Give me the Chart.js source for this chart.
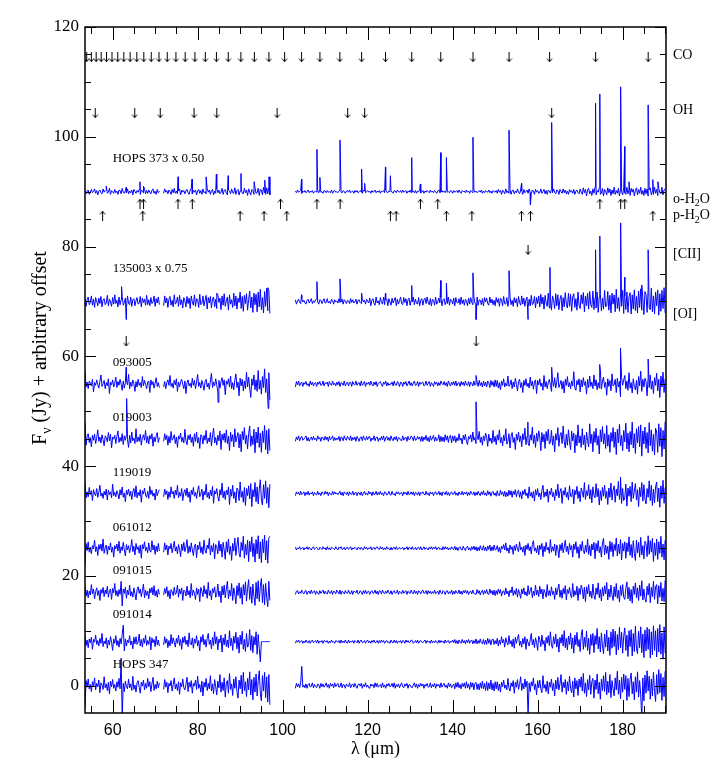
<!DOCTYPE html>
<html>
<head>
<meta charset="utf-8">
<script src="https://cdn.jsdelivr.net/npm/chart.js@4/dist/chart.umd.min.js"></script>
<style>
  html, body { margin: 0; background: #fff; }
</style>
</head>
<body>
<canvas id="spec" width="716" height="768"></canvas>
<script>
// axis ticks
const xTickVals = [60, 80, 100, 120, 140, 160, 180];
const yTickVals = [0, 20, 40, 60, 80, 100, 120];

// wavelength segments of the spectra (um), sampled every 0.25 um
const segStart = [53.5, 72.0, 103.0];
const segEnd = [71.0, 97.0, 190.2];
const STEP = 0.25;

// spectrum names, offsets and label levels
const specNames = ['HOPS 373 x 0.50', '135003 x 0.75', '093005', '019003', '119019', '061012', '091015', '091014', 'HOPS 347'];
const specBase = [90, 70, 55, 45, 35, 25, 17, 8, 0];
const nameLevels = [96.1, 75.9, 58.8, 48.8, 38.8, 28.8, 20.9, 12.9, 3.9];
const nameWave = 60;

// noise around the offset, in units of 0.1 Jy
const hops373A = [2,-4,1,3,-5,-1,4,-2,0,5, -3,2,-6,1,3,-2,-4,5,-1,2, 4,-3,-1,6,-5,2,0,-3,4,-2, 1,-5,3,2,-4,6,-1,-3,2,-2,
  5,-4,1,-2,3,-6,4,0,-3,2, -1,4,-5,3,1,-2,5,-4,2,-3, 3,-1,-4,2,5,-3,1,-5,4,-2, 1];
const hops373B = [-3,5,-1,2,-4,3,0,-5,4,-2, 6,-3,1,-4,2,5,-6,3,-1,2, -4,1,4,-2,-5,3,6,-4,2,-1, 3,-6,1,4,-3,2,-5,5,-2,0,
  -4,6,-1,3,-5,2,4,-6,1,-3, 5,-2,3,-4,-1,6,-5,2,4,-3, -6,3,1,-4,5,-2,-3,7,-5,2, 4,-6,1,5,-3,-4,6,-2,3,-7,
  5,-1,-6,4,2,-5,7,-3,-2,6, -7,4,3,-6,8,-2,-5,7,-4,8, -6];
const hops373C = [1,-2,3,-1,0,2,-3,1,-1,2, -2,0,3,-2,1,-1,2,-3,0,1, -1,2,-2,3,-1,0,-3,2,1,-2, 2,-1,0,-2,3,-3,1,2,-1,0,
  -2,1,3,-1,-2,2,0,-3,1,2, -1,3,-2,0,1,-3,2,-1,2,-2, 0,2,-1,-3,3,1,-2,0,2,-1, 1,-3,2,-1,0,3,-2,1,-1,2,
  -3,1,0,2,-2,3,-1,-2,1,0, 2,-1,-3,2,1,-2,3,0,-1,2, -2,3,-1,0,2,-3,1,-1,3,-2, 0,1,-2,2,-3,1,0,3,-2,-1,
  2,-3,1,-1,2,0,-2,3,-1,1, -2,2,0,-3,1,3,-2,-1,2,-1, 1,-2,3,-1,0,-2,2,1,-3,2, -1,0,2,-2,3,-1,-3,2,0,1,
  -2,3,-1,1,-3,2,0,-2,3,-1, 1,-2,0,2,-1,3,-3,1,-2,2, 0,-1,3,-2,1,-3,2,0,-1,2,
  -3,4,-1,2,-5,3,0,-4,5,-2, 1,-3,4,-5,2,3,-4,1,-2,5, -1,-4,3,2,-5,4,-2,0,3,-3, 5,-2,-4,3,1,-5,4,-1,2,-3,
  -2,5,-3,0,4,-4,2,-5,3,1, -3,4,-2,5,-1,-4,3,2,-5,4, 0,-3,5,-2,3,-4,1,-5,4,-1, 2,-3,4,-5,1,3,-2,-4,5,-1,
  -5,7,-2,4,-8,3,6,-4,1,-7, 5,-3,8,-6,2,-1,7,-5,-3,6, -8,4,1,-6,7,-2,5,-7,3,-4, 8,-5,2,-3,6,-8,4,1,-6,7,
  -2,-5,8,-4,3,-7,6,-1,5,-8, 2,7,-6,4,-3,8,-5,2,-7,6, -4,5,-8,3,7,-6,1,-5,8,-3, 4,-7,6,-2,-4,8,-6,3,5,-8];

const s135003A = [5,-9,3,8,-6,-2,10,-7,4,-11, 7,1,-8,6,-4,9,-10,2,5,-6, -3,11,-8,4,-1,-9,7,-5,12,-4, 2,-10,8,-6,3,9,-7,-2,6,-11,
  10,-4,-6,8,-9,3,5,-8,1,7, -5,-3,9,-10,6,-2,4,-7,11,-6, 3,-8,7,-4,-1,10,-9,5,-3,8, -6];
const s135003B = [-8,10,-3,6,-11,4,9,-7,2,-10, 12,-5,-2,8,-9,11,-6,3,-12,7, 1,-10,9,-4,6,-13,10,-1,-7,12, -9,5,3,-11,13,-6,-4,10,-8,2,
  11,-14,7,-3,9,-12,5,8,-10,4, -13,12,-2,6,-15,10,-7,14,-9,1, 8,-16,12,-5,3,-11,15,-8,10,-14, 6,-2,17,-13,9,-18,11,-4,14,-16,
  3,19,-12,8,-20,15,-6,13,-19,17, -10,22,-15,7,-21,18,-9,24,-17,20, -22];
const s135003C = [3,-5,1,4,-2,-4,5,-1,2,-3, -5,2,4,-3,0,5,-4,1,-2,3, 4,-1,-5,3,2,-4,1,5,-3,-2, 5,-3,0,-4,4,2,-5,3,-1,1,
  -3,5,-2,-1,4,-5,3,0,-4,2, 1,-4,5,-2,3,-3,-1,4,-5,2, 3,-2,-4,5,-1,2,-5,4,0,-3,
  6,-8,2,5,-4,-7,8,-3,1,-6, 7,-2,-5,8,-6,3,4,-8,5,-1, -7,6,-3,2,7,-8,4,-5,1,8, -4,-6,7,-2,5,-8,3,6,-7,2,
  -1,8,-6,4,-3,-5,7,-8,2,5, -7,3,6,-4,8,-2,-6,5,-8,4, 2,-7,8,-5,-1,6,-3,7,-8,3, 5,-6,1,-4,8,-7,4,2,-5,6,
  -8,7,-2,-3,5,-6,8,-4,3,-7, 4,1,-8,6,-5,7,-2,-6,8,-3, -5,8,-7,3,2,-6,5,-8,7,-1, 6,-4,-7,8,-3,4,-6,2,-8,7,
  -2,5,-9,6,3,-8,9,-4,-5,7, -9,4,8,-6,2,-9,7,-3,5,-10, 9,-2,-7,10,-5,6,-9,3,8,-11, 4,-8,11,-6,-3,9,-12,7,-4,10,
  -10,13,-5,8,-14,11,-3,-9,15,-12, 6,-16,10,2,-13,14,-8,12,-15,4, 11,-17,7,-10,16,-5,-12,15,-9,13, -18,8,14,-11,5,-16,17,-7,-13,12,
  -4,16,-19,10,-8,15,-14,18,-6,-11, 19,-15,7,-12,17,-20,9,13,-17,6, -14,20,-10,-8,18,-16,11,-21,15,-5, 12,-19,22,-13,7,-18,14,-9,20,-22,
  10,-15,17,-20,8,16,-23,12,-14,21, -17,9,-21,19,-11,23,-16,6,-24,18, 13,-20,22,-12,-15,24,-19,10,-23,17, -8,21,-25,14,-18,20,-13,25,-21,11];

const s093005A = [22,-6,3,-9,5,1,-4,8,-15,2, -3,7,-1,-8,4,16,-5,0,6,-9, 2,-4,9,-18,3,-2,7,-6,1,12, -7,4,-3,8,-1,-12,5,-8,2,6,
  -2,17,-9,3,-5,7,0,-14,4,-6, 8,-3,2,-7,13,-4,6,-1,-9,3, 5,-16,7,-2,4,-8,1,11,-5,2, -7];
const s093005B = [-6,4,-9,2,7,-3,15,-5,1,-8, 6,-2,9,-14,3,-6,4,8,-1,-9, 5,-18,2,7,-4,1,-7,10,-3,6, -9,3,17,-5,2,-8,6,-2,-12,4,
  8,-6,1,-10,5,19,-7,3,-4,9, -2,-15,6,-8,4,11,-3,7,-20,5, -1,9,-6,14,-9,2,-11,6,18,-7, 3,-22,10,-4,8,-13,5,-9,21,-6,
  12,-8,-25,9,-3,16,-11,7,-14,24, -10,6,-19,13,-7,27,-16,9,-28,20, -30];
const s093005C = [-6,4,-2,5,-4,1,3,-5,2,-1, 4,-3,0,-5,5,-2,3,-4,1,2, -5,3,-1,4,-3,-2,5,-4,2,0, 3,-5,4,-1,-3,5,-2,1,-4,3,
  -2,4,-5,2,1,-3,5,-4,0,3, -4,2,3,-5,4,-1,-2,5,-3,1, 2,-4,5,-3,0,4,-5,2,-1,3, -3,5,-1,-4,3,-2,4,-5,1,2,
  4,-2,-5,3,-1,5,-4,2,-3,0, -1,3,-4,5,-2,-3,4,1,-5,3, 2,-5,3,-1,4,-4,0,5,-3,2, -4,1,5,-3,-2,4,-5,3,-1,2,
  3,-4,-2,5,-3,1,4,-5,2,-1, -5,4,-1,3,-4,2,-3,5,0,-2, 4,-3,2,-5,5,-1,-4,3,-2,4, -3,5,-4,1,2,-5,4,-2,3,-4,
  5,-2,-3,4,-5,3,1,-4,5,-3, -1,4,-5,6,-3,2,-6,5,-4,3, -6,5,2,-7,6,-3,4,-6,7,-5,
  6,-8,2,-11,5,-3,9,-6,1,-4, 14,-5,-2,7,-9,3,-6,10,-1,-13, 4,8,-7,2,-16,6,-3,9,-5,1, -8,12,-4,5,-10,3,7,-18,6,-2,
  9,-5,1,-12,15,-6,4,-9,2,8, -3,-14,7,-5,11,-8,3,20,-7,-1, 6,-10,4,-17,8,-3,13,-6,2,-9, 5,-4,22,-8,-12,6,-2,9,-15,7,
  -6,11,-3,4,-19,8,-7,14,-5,3, -9,16,-4,7,-11,2,-8,25,-10,5, 12,-7,3,-21,9,-5,6,-13,18,-4, -2,8,-16,10,-6,4,-24,11,-3,7,
  15,-9,5,-12,20,-8,2,-17,9,-5, -11,6,-19,13,-4,23,-14,8,-6,10, 4,-22,12,-7,16,-10,5,-18,11,-3, 19,-13,8,-25,14,-6,21,-16,9,-12];

const s019003A = [30,-12,4,9,-7,2,-15,6,-3,8, -9,1,16,-5,3,-8,7,-2,-13,5, 2,-6,11,-4,8,-17,3,-1,6,-9, 4,14,-7,2,-5,9,-11,5,-3,7,
  -2,-16,6,-8,12,-4,1,-9,18,-6, 3,-5,8,-12,2,7,-3,15,-8,4, -10,6,-1,9,-14,3,-6,5,11,-7, 2];
const s019003B = [-5,9,-2,6,-12,4,-8,13,-3,1, 7,-9,3,-16,5,-1,10,-6,2,-8, 17,-4,-11,6,-2,8,-7,3,-14,9, -5,12,-8,2,-18,7,4,-10,6,-3,
  15,-9,1,-6,11,-13,5,19,-8,2, -12,6,-4,14,-20,8,-3,10,-7,16, -9,4,-22,12,-5,7,-15,18,-6,3, 11,-17,8,-24,13,-2,20,-10,6,-19,
  9,23,-14,5,-11,17,-26,12,-8,21, -16,10,-25,14,-7,24,-20,15,-28,18, -22];
const s019003C = [-5,3,-2,5,-4,1,4,-3,-1,2, 5,-4,2,-5,0,3,-3,4,-2,1, -4,5,-1,2,-5,3,1,-3,4,-2, 3,-5,4,-2,0,5,-4,2,-3,1,
  -2,4,-5,3,2,-4,5,-1,-3,4, 1,-3,5,-4,2,-2,3,-5,4,0, -5,2,3,-4,5,-1,-3,4,-2,3, 4,-5,1,-2,5,-4,2,3,-5,1,
  -3,4,-2,5,-5,1,4,-3,2,-4, 5,-1,-4,3,-2,4,-5,2,1,-3, -4,5,-3,1,3,-5,4,-2,-1,5, 2,-4,5,-3,-2,4,-1,3,-5,4,
  -5,3,-2,6,-4,2,-6,5,-3,1, 6,-5,3,-4,-2,7,-6,4,-5,3, -6,7,-3,5,-7,4,6,-8,5,-4,
  5,-7,2,-4,9,-3,1,-10,6,-2, 8,-5,-11,4,-1,7,-6,12,-3,2, -9,6,-2,13,-7,3,-12,5,-4,10, 3,-14,8,-5,1,-9,15,-6,4,-11,
  7,-3,16,-8,2,-13,6,-4,18,-10, -5,9,-17,4,11,-7,2,-20,8,-3, 12,-6,5,-15,9,-2,19,-11,4,-8, -13,7,-3,21,-9,6,-16,10,-5,14,
  3,-22,11,-6,8,-18,13,-4,17,-10, -7,15,-12,5,-24,9,-3,20,-14,6, 11,-9,23,-5,-17,8,-12,16,-6,-20, 14,-4,10,-26,7,-13,25,-8,5,-16,
  18,-11,6,-21,12,-3,-15,27,-9,8, -24,13,-7,19,-12,5,-28,16,-6,22, -10,9,-18,24,-14,7,-25,11,-5,20, -16,12,-29,17,-8,26,-13,6,-22,15,
  -6,28,-19,10,-24,13,-11,30,-17,9, -27,18,-8,22,-15,25,-32,14,-10,21, -18,11,-26,29,-13,16,-23,8,-30,19, 12,-25,27,-14,20,-33,15,-19,31,-22];

const s119019A = [20,-8,3,-6,11,-2,5,-13,7,-1, -4,9,-7,2,15,-5,1,-9,4,-3, 8,-12,6,-2,3,-8,17,-4,2,-6, 5,-1,-10,7,-3,12,-7,1,-15,6,
  -2,8,-5,4,-11,3,9,-6,14,-8, 2,-4,7,-16,5,-1,10,-3,-7,4, -9,13,-2,6,-5,1,-12,8,-4,3, 7];
const s119019B = [-6,8,-2,5,-11,3,-7,12,-1,4, -9,6,-3,15,-8,2,-5,9,-13,1, 7,-4,10,-7,3,-16,6,-2,11,-5, 2,-9,5,14,-6,-1,8,-12,4,-3,
  17,-7,2,-10,6,-4,13,-18,5,-1, 9,-6,-14,7,-3,19,-8,4,-11,6, -2,12,-20,8,-5,15,-9,3,-17,10, 6,-13,21,-7,4,-16,11,-22,9,-4,
  14,-10,18,-24,7,-6,20,-15,12,-19, 8,25,-12,-21,16,-9,23,-18,11,-26, 17];
const s119019C = [-4,3,-1,2,-3,4,-2,0,3,-4, 2,-2,4,-3,1,-1,3,-4,2,0, -3,4,-2,1,-4,3,0,-2,4,-1, 3,-4,2,-1,-3,4,-2,3,-1,1,
  -2,1,4,-3,2,-4,3,0,-2,3, -4,3,-1,-2,4,-3,1,2,-4,2, 1,-3,3,-4,0,4,-2,1,-3,4, -1,2,-4,3,-2,-1,4,-3,2,-2,
  4,-2,1,-4,3,2,-3,-1,4,-2, -3,4,-2,0,-4,3,-1,3,-2,1, 2,-4,3,-1,2,-3,4,-2,-1,3, -2,3,-4,2,1,-3,3,-4,2,0,
  3,-1,-3,4,-2,1,-4,3,-1,2, -4,2,3,-2,-1,4,-3,2,-4,3, 1,-2,4,-3,2,-4,1,3,-2,-1, 4,-3,1,-4,3,-1,-2,4,-3,2,
  -1,3,-4,2,-3,4,0,-2,3,-4, 2,-3,4,-1,-4,3,-2,5,-3,1, -4,5,-2,3,-5,2,4,-3,1,-5, 5,-3,-4,6,-2,3,-5,4,-6,2,
  -5,6,-3,5,-7,4,-2,7,-6,3,
  6,-7,3,-10,5,-2,8,-4,1,-9, 12,-5,2,-8,4,-14,7,-3,9,-6, 1,-11,6,15,-7,3,-5,8,-16,4, -2,10,-6,2,-13,7,-4,17,-8,3,
  9,-18,5,-3,11,-7,2,-12,14,-5, -6,8,-19,6,-2,13,-9,4,-15,10, 3,-7,20,-11,5,-4,16,-10,7,-17, 12,-3,-8,18,-6,9,-21,5,-13,11,
  -5,15,-9,4,-20,10,-7,19,-12,6, 14,-16,8,-4,22,-11,6,-18,9,-13, -8,17,-23,10,-5,13,-15,21,-9,4, 18,-12,7,-24,11,-6,20,-14,16,-10,
  -19,9,-7,23,-13,15,-22,8,-17,12, 21,-15,10,-25,14,-9,24,-18,11,-20];

const s061012A = [-30,9,-4,12,-7,2,-10,5,-1,15, -6,3,-13,7,-2,8,-5,17,-9,1, 6,-11,4,-3,10,-7,2,-16,5,-1, 8,-5,13,-9,3,-4,11,-2,-14,7,
  -3,5,-8,1,16,-6,4,-12,9,-2, 3,-9,6,-18,7,-1,12,-5,2,-8, 10,-4,-7,14,-3,6,-11,4,-6,9, -5];
const s061012B = [-7,10,-3,6,-12,4,-1,9,-8,2, 13,-5,3,-10,7,-2,-15,8,-4,11, -6,2,16,-9,4,-7,10,-3,-13,5, 8,-17,6,-2,12,-8,3,-11,15,-4,
  -9,6,-1,18,-12,5,-6,9,-19,7, 3,-10,14,-5,8,-16,11,-3,-20,12, -7,17,-11,4,-22,9,-5,19,-13,6, 20,-9,-16,11,-4,22,-18,7,-12,15,
  -24,13,-6,21,-15,9,-25,16,-10,23, -19,12,-26,17,-8,24,-21,14,-27,19, 22];
const s061012C = [2,-3,1,-1,3,-2,0,2,-3,1, -1,3,-2,2,-1,-3,1,3,-2,0, 2,-1,-3,2,0,-2,3,-1,1,-3, 3,-2,1,-3,2,1,-1,-2,3,-1,
  -3,2,0,3,-2,-1,2,-3,1,2, -2,1,3,-3,1,-1,2,0,-3,2, 1,-2,2,-1,-3,3,-1,2,-2,1, -1,3,-3,0,2,-2,1,3,-1,-2,
  3,-1,2,-3,1,-2,3,-1,0,-3, 2,-3,1,2,-2,3,-2,-1,2,-1, 0,2,-3,1,-1,3,-3,2,1,-2, 3,-2,-1,2,-3,1,2,-2,3,-3,
  -1,3,-2,1,0,-3,2,-1,3,-2, 2,-1,3,-3,1,2,-2,0,-3,3, -2,3,-1,2,-3,1,-2,3,-1,-2, 4,-3,2,-4,1,3,-2,-3,4,-1,
  -4,2,4,-3,1,-4,3,-2,4,-3, 3,-5,2,-4,5,-2,-3,5,-4,2, -5,4,-2,6,-5,3,-4,6,-3,-2,
  5,-6,2,-8,4,-1,7,-3,10,-5, 1,-9,6,-2,3,-11,5,-4,8,-1, -6,12,-3,2,-7,4,-13,6,-2,9, -4,3,-10,7,14,-5,1,-8,5,-12,
  6,-2,9,-15,4,-6,11,-3,2,-9, 16,-7,3,-5,8,-13,6,-1,-17,7, -4,10,-8,2,15,-6,4,-11,9,-3, 5,-16,8,-2,12,-9,3,-18,7,-5,
  13,-4,-10,6,-7,17,-11,5,-14,8, -3,11,-19,9,-5,14,-8,3,-16,10, 18,-12,6,-9,4,-20,13,-6,11,-15, 7,-4,19,-14,8,-10,16,-21,9,-5,
  12,-18,10,-6,21,-13,7,-17,14,-9, -22,15,-8,11,-16,20,-12,5,-19,13, 9,-15,23,-11,14,-7,18,-24,10,-13, 17,-20,12,-9,22,-16,8,-21,15,-11];

const s091015A = [12,-7,4,-10,2,-5,14,-3,6,-12, 1,8,-6,3,-15,5,-2,9,-8,4, -3,11,-9,2,6,-13,7,-1,16,-6, 3,-8,5,-4,20,-25,6,-2,9,-11,
  4,-5,13,-7,1,-9,8,-3,-14,5, 10,-2,6,-8,3,15,-10,4,-6,2, -12,7,-1,9,-5,12,-7,3,-9,6, -4];
const s091015B = [-5,7,-2,10,-8,3,-12,5,1,-6, 9,-4,-1,13,-9,6,-3,8,-15,4, 2,-7,11,-5,3,-10,16,-6,4,-2, -13,8,-4,6,-17,9,2,-8,12,-3,
  5,-11,18,-6,3,-14,7,-1,10,-9, -4,15,-8,2,-19,11,-5,13,-10,6, 20,-12,4,-7,16,-15,8,-3,-21,12, -6,17,-11,9,-22,14,-5,19,-16,7,
  23,-13,10,-20,15,-8,-24,18,-12,21, -17,11,25,-19,14,-23,16,-10,-26,20, -15];
const s091015C = [-4,2,3,-3,1,-2,4,-1,-3,2, 3,-4,1,2,-3,4,-2,0,3,-4, 2,-1,-4,3,-2,1,4,-3,2,-2, -3,4,-1,-2,3,-4,2,1,-3,4,
  1,-3,4,-4,2,0,-3,3,-1,-2, 4,-2,-3,3,-4,2,1,-1,4,-3, -2,3,0,-4,3,-2,4,-3,1,2, -4,1,3,-2,-1,4,-3,2,-4,3,
  2,-3,4,-1,-3,2,-2,4,-1,-3, 3,-4,1,3,-2,-1,4,-4,2,0, -3,4,-2,1,3,-4,2,-1,-2,4, -1,-3,4,-2,2,-4,3,1,-3,2,
  4,-2,-1,3,-4,3,-2,2,-3,1, -2,4,-3,0,2,-4,4,-1,-3,3, 1,-4,2,3,-3,1,-2,4,-4,2, -3,3,-1,-2,4,-3,2,-4,3,-1,
  4,-2,3,-4,1,2,-3,4,-2,-3, -4,5,-2,3,-5,1,4,-4,3,-2, 5,-3,-4,6,-2,3,-5,4,-6,3,
  -4,6,-2,5,-7,1,3,-5,8,-3, 2,-8,4,-1,10,-6,3,-4,7,-9, 5,-2,-11,6,-3,8,-5,1,-7,12, -4,3,9,-10,2,-6,13,-5,4,-8,
  11,-3,6,-12,5,-1,-9,14,-6,3, -7,10,-4,2,-13,8,-5,6,15,-9, 4,-11,7,-3,12,-14,5,-2,9,-6, -10,16,-8,3,-5,11,-15,7,-4,13,
  6,-12,9,-17,10,-3,14,-8,2,-11, 15,-6,-13,8,-4,17,-10,5,-16,9, -7,12,-3,18,-14,6,-9,13,-5,-15, 10,-8,16,-11,4,-18,12,-6,14,-9,
  -13,7,19,-12,9,-16,5,-20,11,-4, 17,-10,8,-15,13,-7,21,-14,6,-12, -18,11,-5,16,-19,9,-8,20,-13,10, 14,-21,12,-9,18,-16,7,-17,22,-11];

const s091014A = [10,-7,3,-11,5,-2,8,-14,4,-1, 12,-5,2,-8,6,-3,15,-9,1,-4, 7,-12,3,-6,9,-1,-16,5,-3,11, -7,2,-10,6,-4,13,30,-17,5,-8,
  3,-2,11,-6,1,-13,8,-4,9,-5, -1,14,-8,4,-10,6,-3,12,-7,2, -5,9,-15,7,-2,4,-9,10,-6,3, -8];
const s091014B = [-6,9,-3,5,-11,2,-8,13,-4,7, -1,-10,6,-3,12,-7,4,-14,8,-2, 10,-5,3,-9,16,-4,-6,7,-12,5, -3,11,-8,2,-17,9,-1,13,-6,4,
  -10,6,15,-5,3,-13,8,-7,18,-4, 9,-15,5,-2,12,-19,7,-6,14,-9, 3,-11,20,-8,6,-16,10,-3,17,-13, 8,-21,12,-5,19,-14,4,-18,15,-10,
  -7,22,-16,11,-20,9,-6,18,-23,13, -12,-37,0,0,0,0,0,0,0,0, 0];
const s091014C = [-3,2,-1,3,-2,0,2,-3,1,-2, 3,-1,-2,2,-3,1,3,-2,0,2, -2,3,-3,1,-1,2,-3,2,1,-1, 2,-3,1,-2,3,-1,0,-3,2,1,
  -1,2,-3,3,-2,1,-2,3,-1,-3, 3,-2,1,-1,2,-3,2,0,-2,3, -3,1,3,-2,-1,2,-3,1,3,-2, 1,-3,2,-1,3,-2,-1,2,-3,2,
  -2,3,-1,2,-3,1,2,-2,0,-3, 3,-1,-2,3,-2,2,-3,1,-1,2, -3,2,1,-3,3,-1,2,-2,-1,3, 2,-3,-1,2,-2,3,-3,1,2,-1,
  -2,1,3,-3,2,-1,1,-3,3,-2, 1,-2,2,-1,-3,3,-2,2,-1,1, -3,3,-2,1,2,-3,1,-1,3,-2, 4,-3,2,-4,3,-1,-3,4,-2,2,
  -4,3,-2,4,-3,1,3,-4,2,-3, 5,-4,2,-3,5,-2,-4,4,-5,3, -5,6,-3,4,-6,3,5,-5,2,-4,
  6,-8,3,-5,9,-2,4,-10,7,-1, -6,11,-4,2,-9,5,-12,8,-3,6, 13,-7,1,-10,6,-4,9,-14,5,-2, -8,3,15,-6,4,-11,7,-1,-16,10,
  4,-9,12,-5,2,-17,8,-3,11,-7, 18,-6,-12,9,-4,14,-10,5,-19,8, -3,13,-8,20,-11,6,-15,10,-5,16, -13,7,-21,12,-6,17,-9,4,-18,11,
  22,-14,8,-10,19,-16,6,-23,13,-7, 15,-20,11,-5,24,-13,9,-19,16,-8, -22,14,-10,21,-17,8,-25,18,-12,23, -9,19,-24,13,-15,26,-11,17,-21,10,
  25,-16,12,-27,20,-9,22,-26,15,-18, 28,-13,-22,19,-11,27,-20,14,-29,21, -17,26,-14,23,-30,18,-24,29,-16,20, -28,24,-19,31,-23,16,-32,27,-21,30];

const hops347A = [-40,9,-3,12,-6,2,-11,7,-1,14, -8,4,-2,10,-13,5,1,-7,16,-4, 3,-9,6,-15,8,-2,11,-5,2,-10, 7,-3,13,-6,50,-60,4,-11,8,-2,
  -6,12,-4,3,-9,17,-7,1,-12,5, 9,-3,-14,6,-1,10,-8,4,-5,13, -2,7,-11,3,15,-9,2,-6,8,-4, 5];
const hops347B = [-7,11,-3,6,-13,4,-1,9,-10,2, 14,-6,3,-9,7,-16,5,-2,12,-4, -8,2,15,-11,6,-3,9,-14,4,-1, 10,-7,17,-5,2,-12,8,-19,6,-3,
  13,-9,4,-6,18,-10,3,-15,11,-2, -17,8,-4,20,-12,6,-9,14,-21,5, 9,-14,22,-7,3,-18,12,-5,16,-11, -23,10,-6,19,-15,24,-9,7,-20,13,
  -8,25,-17,11,-26,15,-12,21,-19,9, 27,-14,-28,18,-10,24,-22,16,-30,20, -35];
const hops347C = [-5,4,-2,3,-4,5,35,-3,1,-4, 3,-5,2,4,-3,-1,5,-4,2,-2, -4,3,1,-5,4,-2,3,-3,0,5, -3,2,-5,4,-1,3,-4,5,-2,1,
  4,-3,-2,5,-4,2,1,-5,3,-1, -2,5,-4,1,3,-3,4,-1,-5,2, 3,-1,4,-5,2,-2,5,-3,1,-4, -5,3,-1,2,-4,5,-2,4,-3,0,
  2,-4,5,-3,1,-5,3,-1,4,-2, -1,4,-3,5,-5,2,-2,3,-4,1, 5,-2,-4,3,-1,4,-5,2,1,-3, -4,1,5,-3,3,-5,2,-2,4,-1,
  3,-5,2,-1,4,-3,-2,5,-4,2, -2,4,-5,3,-1,2,-4,5,-3,1, 4,-3,1,-5,5,-2,3,-4,-1,3, -6,5,-3,6,-4,2,-6,4,-2,5,
  -5,7,-4,3,-7,6,-3,5,-8,4, 6,-7,3,-8,5,-5,8,-6,4,-9, 7,-9,5,-6,10,-8,4,-10,7,-6,
  7,-9,3,-12,6,-2,10,-5,1,-8, 13,-4,-10,5,-2,9,-14,6,-3,11, -7,2,16,-9,4,-6,12,-3,8,-55, 5,-11,7,-1,14,-8,3,-17,9,-4,
  10,-6,-13,18,-5,2,-11,8,-15,6, -3,12,-9,4,-19,10,-6,15,-8,3, 20,-12,6,-4,11,-16,7,-10,17,-5, -13,8,-21,14,-6,9,-18,12,-3,16,
  -10,22,-14,5,-20,11,-8,19,-16,7, 13,-23,10,-7,21,-15,6,-25,12,-9, 18,-11,24,-17,8,-13,20,-22,9,-6, -19,14,-8,26,-16,10,-24,15,-12,21,
  -7,18,-27,13,-20,11,23,-15,7,-26, 16,-12,25,-21,9,-17,-60,14,-28,19, -14,27,-10,17,-25,12,-19,24,-11,-29, 20,-16,29,-13,22,-27,15,-20,26,-18];

// emission / absorption features: [wavelength um, height above offset Jy]
const hops373Lines = [[58.5,1.0],[63.2,0.8],[66.44,1.8],[67.27,1.0],[75.4,2.7],[78.7,2.3],[82.0,2.7],[84.4,3.2],[87.2,2.9],[90.2,3.3],[93.3,1.8],[95.8,2.1],[96.8,2.7],
  [104.45,2.3],[108.07,7.7],[108.76,2.6],[113.5,9.4],[118.58,4.1],[119.3,1.5],[124.19,4.5],[125.35,2.9],[130.37,6.2],[132.4,1.4],[137.2,7.1],[138.53,6.2],[144.78,9.9],
  [153.27,11.2],[156.2,1.5],[158.3,-2.4],[163.3,12.6],[173.63,16.1],[174.63,17.8],[179.53,19.1],[180.49,8.2],[181.5,1.8],[186.0,15.8],[187.1,2.2],[188.3,1.8]];
const s135003Lines = [[62.1,2.7],[63.18,-3.3],[84.5,1.5],[96.5,2.5],[104.45,1.2],[108.07,3.6],[113.5,4.1],[118.58,1.5],[124.19,1.5],[130.37,2.9],[137.2,3.8],[138.53,3.3],
  [144.78,5.2],[145.53,-3.3],[153.27,5.6],[157.74,-3.3],[162.9,6.2],[173.63,9.4],[174.63,11.9],[179.53,14.3],[180.49,4.4],[184.5,3.0],[186.0,9.4]];
const s093005Lines = [[63.2,3.0],[84.8,-3.4],[96.6,-4.5],[145.5,1.5],[163.3,3.0],[174.6,3.5],[179.5,6.5],[186.0,4.5]];
const s019003Lines = [[63.3,7.3],[145.5,6.7],[157.7,3.0]];
const s119019Lines = [[179.5,3.0]];
const noLines = [];

// line identification markers
const coWave = [185.999,173.631,162.812,153.267,144.784,137.196,130.369,124.193,118.581,113.458,108.763,104.445,100.461,96.772,93.349,90.163,87.190,84.411,81.806,79.360,77.059,74.890,72.843,70.907,69.074,67.336,65.686,64.117,62.624,61.201,59.843,58.547,57.308,56.122,54.986,53.897];
const ohWave = [55.9, 65.2, 71.2, 79.15, 84.5, 98.7, 115.3, 119.3, 163.3];
const oH2OWave = [66.44, 67.27, 75.38, 78.74, 99.49, 108.07, 113.54, 132.41, 136.49, 174.63, 179.53, 180.49];
const pH2OWave = [57.64, 67.09, 89.99, 95.63, 100.98, 125.35, 126.71, 138.53, 144.52, 156.19, 158.31, 187.11];
const ciiWave = [157.74];
const oiWave = [63.18, 145.53];
const markLevels = { co: 114.5, oh: 104.3, oh2o: 87.8, ph2o: 85.6, cii: 79.4, oi: 62.7 };

// labels to the right of the frame
const rightLabels = [
  [[['CO', 0]], 114.8],
  [[['OH', 0]], 104.8],
  [[['o-H', 0], ['2', 1], ['O', 0]], 88.6],
  [[['p-H', 0], ['2', 1], ['O', 0]], 85.6],
  [[['[CII]', 0]], 78.5],
  [[['[OI]', 0]], 67.7]
];

const specNoise = [
  [hops373A, hops373B, hops373C], [s135003A, s135003B, s135003C], [s093005A, s093005B, s093005C],
  [s019003A, s019003B, s019003C], [s119019A, s119019B, s119019C], [s061012A, s061012B, s061012C],
  [s091015A, s091015B, s091015C], [s091014A, s091014B, s091014C], [hops347A, hops347B, hops347C]
];
const specLines = [hops373Lines, s135003Lines, s093005Lines, s019003Lines, s119019Lines, noLines, noLines, noLines, noLines];

function buildSpectrum(base, segs, lines) {
  const pts = [];
  segs.forEach((noise, s) => {
    const seg = [];
    noise.forEach((n, i) => {
      const x = segStart[s] + i * STEP;
      if (x <= segEnd[s] + 1e-6) seg.push({ x: x, y: base + n / 10 });
    });
    lines.forEach(([lam, h]) => {
      if (lam >= segStart[s] && lam <= segEnd[s]) seg.push({ x: lam, y: base + h });
    });
    seg.sort((a, b) => a.x - b.x);
    pts.push(...seg);
    pts.push({ x: segEnd[s] + 0.1, y: null });
  });
  return pts;
}

function arrowImg(up) {
  const c = document.createElement('canvas');
  c.width = 7; c.height = 10;
  const g = c.getContext('2d');
  g.strokeStyle = '#000';
  g.lineWidth = 1;
  g.beginPath();
  g.moveTo(3.5, 0); g.lineTo(3.5, 10);
  if (up) { g.moveTo(1, 3.5); g.lineTo(3.5, 0.5); g.lineTo(6, 3.5); }
  else { g.moveTo(1, 6.5); g.lineTo(3.5, 9.5); g.lineTo(6, 6.5); }
  g.stroke();
  return c;
}
const downArrow = arrowImg(false);
const upArrow = arrowImg(true);

function markerSet(waves, level, img) {
  return {
    data: waves.map(w => ({ x: w, y: level })),
    showLine: false,
    pointStyle: img,
    pointRadius: 4,
    borderColor: '#000',
    backgroundColor: '#000'
  };
}

const datasets = specBase.map((b, k) => ({
  data: buildSpectrum(b, specNoise[k], specLines[k]),
  borderColor: '#0000ff',
  borderWidth: 1,
  pointRadius: 0,
  tension: 0,
  spanGaps: false
}));
datasets.push(markerSet(coWave, markLevels.co, downArrow));
datasets.push(markerSet(ohWave, markLevels.oh, downArrow));
datasets.push(markerSet(oH2OWave, markLevels.oh2o, upArrow));
datasets.push(markerSet(pH2OWave, markLevels.ph2o, upArrow));
datasets.push(markerSet(ciiWave, markLevels.cii, downArrow));
datasets.push(markerSet(oiWave, markLevels.oi, downArrow));

function drawParts(ctx, parts, x, y, size) {
  let cx = x;
  parts.forEach(([t, sub]) => {
    const fs = sub ? Math.round(size * 0.7) : size;
    ctx.font = fs + 'px "Liberation Serif"';
    ctx.fillText(t, cx, sub ? y + size * 0.3 : y);
    cx += ctx.measureText(t).width;
  });
}
function partsWidth(ctx, parts, size) {
  let w = 0;
  parts.forEach(([t, sub]) => {
    ctx.font = (sub ? Math.round(size * 0.7) : size) + 'px "Liberation Serif"';
    w += ctx.measureText(t).width;
  });
  return w;
}

const framePlugin = {
  id: 'frame',
  afterDatasetsDraw(chart) {
    const { ctx, chartArea: a, scales: { x, y } } = chart;
    ctx.save();
    ctx.strokeStyle = '#000';
    ctx.lineWidth = 1;
    ctx.beginPath();
    for (let v = 55; v <= 190; v += 5) {
      const px = Math.round(x.getPixelForValue(v)) + 0.5;
      const L = v % 20 === 0 ? 13 : 7;
      ctx.moveTo(px, a.bottom); ctx.lineTo(px, a.bottom - L);
      ctx.moveTo(px, a.top); ctx.lineTo(px, a.top + L);
    }
    for (let v = 0; v <= 120; v += 5) {
      const py = Math.round(y.getPixelForValue(v)) + 0.5;
      const L = v % 20 === 0 ? 11 : 6;
      ctx.moveTo(a.left, py); ctx.lineTo(a.left + L, py);
      ctx.moveTo(a.right, py); ctx.lineTo(a.right - L, py);
    }
    ctx.stroke();
    ctx.lineWidth = 1.5;
    ctx.strokeRect(a.left, a.top, a.right - a.left, a.bottom - a.top);

    ctx.fillStyle = '#000';
    ctx.textBaseline = 'middle';
    ctx.textAlign = 'left';
    // spectrum names
    ctx.font = '13px "Liberation Serif"';
    specNames.forEach((n, k) => {
      ctx.fillText(n, x.getPixelForValue(nameWave), y.getPixelForValue(nameLevels[k]));
    });
    // line species labels on the right
    rightLabels.forEach(([parts, lvl]) => {
      drawParts(ctx, parts, a.right + 7, y.getPixelForValue(lvl), 14);
    });
    // axis titles
    ctx.textAlign = 'center';
    ctx.font = '18px "Liberation Serif"';
    ctx.fillText('\u03bb (\u03bcm)', (a.left + a.right) / 2, 749);
    ctx.translate(41, 348);
    ctx.rotate(-Math.PI / 2);
    ctx.textAlign = 'left';
    const yt = [['F', 0], ['\u03bd', 1], [' (Jy) + arbitrary offset', 0]];
    drawParts(ctx, yt, -partsWidth(ctx, yt, 20) / 2, 0, 20);
    ctx.restore();
  }
};

new Chart(document.getElementById('spec'), {
  type: 'line',
  data: { datasets: datasets },
  options: {
    responsive: false,
    animation: false,
    devicePixelRatio: 1,
    layout: { padding: { top: 27, right: 50, left: 0, bottom: 0 } },
    plugins: { legend: { display: false }, tooltip: { enabled: false } },
    scales: {
      x: {
        type: 'linear', min: 53.5, max: 190.2,
        grid: { display: false, drawTicks: false },
        border: { display: false },
        ticks: { color: '#000', font: { family: 'Liberation Sans', size: 16 }, padding: 8, maxRotation: 0, autoSkip: false },
        afterBuildTicks: s => { s.ticks = xTickVals.map(v => ({ value: v })); },
        afterFit: s => { s.height = 55; }
      },
      y: {
        type: 'linear', min: -5, max: 120,
        grid: { display: false, drawTicks: false },
        border: { display: false },
        ticks: { color: '#000', font: { family: 'Liberation Serif', size: 17 }, padding: 6, autoSkip: false },
        afterBuildTicks: s => { s.ticks = yTickVals.map(v => ({ value: v })); },
        afterFit: s => { s.width = 85; }
      }
    }
  },
  plugins: [framePlugin]
});
</script>
</body>
</html>
